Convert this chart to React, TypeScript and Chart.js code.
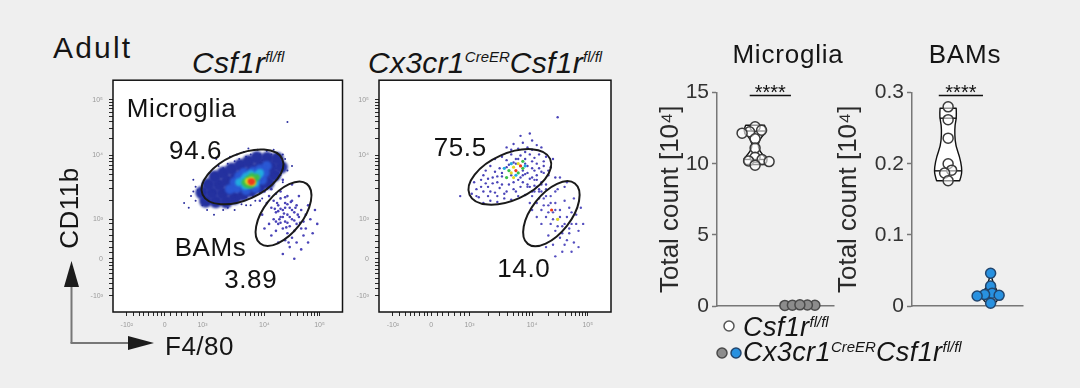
import React, { useEffect, useRef } from "react";
import { Chart, registerables } from "chart.js";

Chart.register(...registerables);

const FONT = "'Liberation Sans', Arial, Helvetica, sans-serif";
const BG = "#efefef";

// ---------------- Flow cytometry (F4/80 vs CD11b), display units 0–100 ----------------
const flowXTickValues = [6, 22.5, 39, 66, 90];
const flowXTickLabels = ["-10²", "0", "10³", "10⁴", "10⁵"];
const flowYTickValues = [7, 23, 40, 67.5, 91.5];
const flowYTickLabels = ["-10³", "0", "10³", "10⁴", "10⁵"];
const flowXMinorTicks = [9, 11.5, 13.5, 15.5, 17.5, 19.5, 21, 25, 27.5, 30, 32.5, 35, 37, 47.1, 51.9, 55.3, 57.9, 60, 61.8, 63.4, 64.8, 73.2, 77.4, 80.4, 82.8, 84.7, 86.3, 87.7, 88.9];
const flowYMinorTicks = [10, 12.5, 14.5, 16.5, 18.5, 20, 21.5, 25.5, 28, 30.5, 33, 35.5, 38, 48.3, 53.1, 56.6, 59.2, 61.4, 63.2, 64.8, 66.2, 74.7, 79, 82, 84.3, 86.2, 87.8, 89.2, 90.4];

// gates: centre x, centre y, semi-major, semi-minor, tilt (deg)
const microgliaGate = [56.4, 58.3, 19, 10, 24];
const bamGate = [74.3, 42.4, 16.5, 8.5, 52];

const ctrlGateFreqs = ["94.6", "3.89"];
const koGateFreqs = ["75.5", "14.0"];

// density levels: 0 navy … 5 red
const LEVEL_COLORS = ["#24319f", "#2a58d4", "#22acdf", "#3cbf4a", "#e2dc20", "#ec3a1c"];

// Csf1r fl/fl – microglia density core [x, y, level]
const ctrlMicrogliaDensity = [
  [40.4, 47.8, 0], [38.7, 51.5, 0], [44.8, 47.6, 0], [43.2, 51.3, 0], [41.6, 55.0, 0],
  [49.3, 47.5, 0], [47.7, 51.1, 0], [46.1, 54.8, 0], [44.4, 58.4, 0],
  [53.0, 49.1, 0], [51.3, 52.7, 0], [49.7, 56.4, 0], [48.1, 60.0, 0],
  [56.6, 50.7, 0], [55.0, 54.4, 0], [53.4, 58.0, 0], [51.7, 61.7, 0],
  [60.3, 52.3, 0], [58.6, 56.0, 0], [57.0, 59.6, 0], [55.4, 63.3, 0],
  [63.9, 54.0, 0], [62.3, 57.6, 0], [60.7, 61.3, 0], [59.0, 64.9, 0],
  [67.6, 55.6, 0], [66.0, 59.2, 0], [64.3, 62.9, 0], [62.7, 66.6, 0],
  [70.4, 59.0, 0], [68.8, 62.7, 0], [67.2, 66.4, 0], [73.3, 62.5, 0], [71.6, 66.2, 0],
  [51, 53, 1], [53, 56, 1], [55, 58.5, 1], [54, 53.5, 1], [57, 55, 1], [59, 57.5, 1], [57, 60, 1], [58, 52.5, 1],
  [61, 55.5, 1], [63, 58, 1], [61, 60.5, 1], [62, 53.5, 1], [65, 57, 1], [66, 60, 1], [67, 63, 1], [64, 61.5, 1],
  [60, 58.5, 1], [56, 57, 1],
  [55, 56, 2], [57, 57, 2], [59, 55, 2], [61, 57, 2], [63, 59, 2], [58, 58.5, 2], [60, 59.5, 2], [57.5, 54.5, 2],
  [62, 55.5, 2], [64, 60, 2], [59.5, 56.5, 2],
  [57.5, 56, 3], [59, 57.3, 3], [61, 56.5, 3], [60, 54.8, 3], [62.5, 58, 3], [58.5, 55, 3], [60.5, 58.5, 3],
  [59.5, 56, 4], [61, 55.7, 4], [60.3, 57, 4], [58.8, 56.5, 4],
  [60.3, 55.9, 5], [60.8, 56.4, 5], [59.8, 56.5, 5],
];
const ctrlMicrogliaEvents = [
  [36, 48], [38, 51], [39, 46], [40, 53], [41, 49], [37, 52.5], [42, 55], [43, 47], [34, 50], [39, 55.5],
  [48, 62], [50, 64], [53, 65], [55, 66], [58, 67], [60, 68], [62, 67.5], [64, 68], [66, 67], [68, 66.5],
  [52, 62.5], [57, 64.5], [61, 65.5], [65, 65.5], [70, 65], [71, 62], [72, 60],
  [46, 47], [49, 47.5], [52, 48], [55, 49], [58, 49.5], [61, 50], [64, 51.5], [67, 53], [69, 55], [71, 57], [73, 59],
  [50, 45], [56, 46.5], [62, 48], [76, 82], [31, 47], [74, 68], [45, 66], [35, 57], [78, 63], [44, 42],
  [47, 58.5], [44, 51], [73, 64.5], [67, 69.5], [59, 70.5], [53, 44], [60, 46], [33, 45], [36, 54], [42, 60],
  [46, 63], [51, 67], [57, 69], [63, 70], [69, 68], [75, 66], [76, 61], [74, 56], [65, 49], [58, 46], [48, 44],
  [41, 44], [35, 52], [70, 70], [54, 68],
];
const ctrlBamEvents = [
  [66, 52], [68, 50], [70, 48], [72, 46], [74, 44], [76, 42], [78, 40], [80, 38], [82, 36], [69, 53], [71, 51],
  [73, 49], [75, 47], [77, 45], [79, 43], [81, 41], [83, 39], [67, 47], [69, 45], [71, 43], [73, 41], [75, 39],
  [77, 37], [79, 35], [70, 40], [72, 38], [74, 36], [76, 34], [78, 32], [73, 52], [76, 50], [78, 48], [80, 46],
  [82, 44], [84, 42], [85, 46], [86, 40], [80, 30], [75, 31], [71, 35], [68, 38], [65, 42], [64, 48], [63, 54],
  [78, 55], [81, 50], [84, 36], [77, 28], [72, 30], [88, 44], [87, 34], [74, 25], [82, 27], [79, 23], [69, 33],
  [66, 36], [85, 30], [89, 38], [74, 57], [70, 56], [76, 38.5], [73, 44.5], [75, 45], [77, 41], [74, 41],
  [72, 43.5], [78, 44], [76, 46.5], [79, 39.5], [74.5, 42.5], [71.5, 47], [80.5, 42], [75.5, 36.5], [73, 38.5],
  [70.5, 44.5], [72.5, 40], [77.5, 47.5], [79.5, 45], [81.5, 38.5], [83, 33], [75, 49.5], [71, 39], [76.5, 30],
];

// Cx3cr1CreER Csf1r fl/fl
const koMicrogliaEvents = [
  [45, 47], [48, 48], [51, 47.5], [54, 49], [57, 48.5], [60, 50], [63, 50.5], [66, 52], [43, 49.5], [69, 53],
  [40, 51], [42, 53], [45, 52], [47, 54], [50, 51.5], [52, 53.5], [55, 52], [58, 53], [61, 54], [64, 55], [67, 54.5], [70, 56], [72, 55],
  [41, 56], [44, 57], [46, 55.5], [49, 58], [51, 56], [53, 58.5], [57, 59], [61, 58], [63, 59.5], [65, 57.5], [68, 59], [70, 60.5], [73, 59],
  [46, 61], [48, 63], [50, 60.5], [52, 62], [56, 63.5], [62, 61], [64, 63], [66, 62], [68, 64], [71, 63], [74, 62.5],
  [50, 66], [53, 67], [55, 65.5], [57, 68], [59, 66], [61, 67.5], [63, 66], [65, 68], [67, 66.5], [69, 68], [72, 67],
  [55, 71], [58, 72.5], [60, 70.5], [62, 73], [64, 71], [66, 74], [68, 72], [61, 76], [65, 77], [70, 71],
  [77, 84], [35, 50], [76, 58], [75, 66], [80, 54], [47, 50], [53, 55], [59, 64], [66, 65], [62, 56],
  [42, 50], [44, 54], [48, 52], [51, 50], [54, 51], [56, 55], [58, 56], [60, 57], [62, 59], [64, 60], [66, 58],
  [69, 62], [67, 61], [63, 64], [60, 66], [58, 64.5], [55, 62.5], [53, 60], [51, 58.5], [49, 55.5], [47, 57.5],
  [45, 59], [57, 70], [63, 69], [66, 70], [71, 65], [73, 61], [59, 52], [65, 54], [68, 57],
];
const koMicrogliaHot = [
  [57, 60, 4], [58, 62.5, 4], [55, 58, 3], [60, 64, 4], [62, 62, 3], [59, 61, 5], [61, 63, 5], [56, 61, 3],
  [59, 59, 2], [63, 63, 2], [54, 62, 2], [57, 64, 2], [60, 60, 3], [58, 58, 4], [62, 65, 3], [74.4, 44, 5], [77, 40, 4],
];
const koBamEvents = [
  [64, 54], [66, 50], [67, 57], [68, 47], [69, 52], [70, 44], [70, 55], [71, 49], [72, 41], [72, 53], [73, 46],
  [74, 38], [74, 50], [75, 43], [76, 35], [76, 47], [77, 40], [77, 53], [78, 32], [78, 44], [79, 37], [80, 48],
  [80, 29], [81, 41], [82, 34], [82, 45], [83, 38], [84, 30], [85, 42], [86, 35], [79, 26], [75, 29], [73, 33],
  [70, 38], [68, 41], [66, 44], [84, 49], [87, 45], [81, 56], [83, 26], [76, 24], [72, 28], [86, 28], [71, 60],
  [78, 58], [88, 38], [65, 47], [67, 52], [69, 49], [71, 46], [73, 43], [75, 40], [77, 37], [79, 34], [81, 31],
  [74, 47], [76, 44], [78, 41], [80, 38], [82, 36], [72, 50], [70, 52], [76, 52], [83, 43], [68, 54], [85, 38],
];

// ---------------- Total counts [10^4] ----------------
const countGroups = ["Csf1r fl/fl", "Cx3cr1 CreER Csf1r fl/fl"];
const microgliaCtrl = [12.6, 12.35, 12.25, 12.15, 11.75, 11.1, 10.45, 10.3, 10.2, 10.15, 9.9];
const microgliaKo = [0.05, 0.07, 0.04, 0.06, 0.08];
const bamCtrl = [0.28, 0.262, 0.236, 0.2, 0.191, 0.187, 0.176];
const bamKo = [0.046, 0.028, 0.018, 0.016, 0.015, 0.014, 0.004];
const microgliaTicks = [0, 5, 10, 15];
const microgliaTickLabels = ["0", "5", "10", "15"];
const bamTicks = [0, 0.1, 0.2, 0.3];
const bamTickLabels = ["0", "0.1", "0.2", "0.3"];
const significance = "****";

// violin outlines: value levels and half-widths (group units)
const mgCtrlViolinY = [9.95, 10.15, 10.4, 10.7, 11.0, 11.3, 11.6, 11.9, 12.2, 12.45, 12.7];
const mgCtrlViolinW = [0.21, 0.26, 0.24, 0.15, 0.09, 0.065, 0.09, 0.15, 0.24, 0.24, 0.21];
const mgCtrlQuartiles = [10.3, 11.4, 12.3];
const mgKoViolinY = [0.03, 0.06, 0.09];
const mgKoViolinW = [0.12, 0.28, 0.12];
const bamCtrlViolinY = [0.176, 0.185, 0.195, 0.21, 0.225, 0.24, 0.255, 0.265, 0.278];
const bamCtrlViolinW = [0.27, 0.32, 0.32, 0.27, 0.18, 0.155, 0.16, 0.2, 0.19];
const bamCtrlQuartiles = [0.19, 0.264];
const bamKoViolinY = [0.004, 0.008, 0.013, 0.018, 0.024, 0.03, 0.038, 0.046];
const bamKoViolinW = [0.09, 0.17, 0.2, 0.18, 0.13, 0.08, 0.03, 0.01];
const bamKoQuartiles = [0.014, 0.02];

// ---------------- helpers ----------------
function useChart(build: (c: HTMLCanvasElement) => any) {
  const ref = useRef<HTMLCanvasElement>(null);
  useEffect(() => {
    if (!ref.current) return;
    const chart = build(ref.current);
    return () => chart.destroy();
  }, []);
  return ref;
}

function Txt({ x, y, size, children, italic, anchor, spacing = 0, color = "#151515" }: any) {
  const style: any = {
    position: "absolute", left: x, top: y - 0.8465 * size, fontSize: size, lineHeight: `${size}px`,
    fontFamily: FONT, fontStyle: italic ? "italic" : "normal", whiteSpace: "nowrap", letterSpacing: spacing, color,
  };
  if (anchor === "middle") style.transform = "translateX(-50%)";
  return <div style={style}>{children}</div>;
}
const Sup = ({ children, size, rise }: any) => (
  <span style={{ fontSize: size, position: "relative", top: -rise, letterSpacing: 0 }}>{children}</span>
);

const FLOW_W = 266;
const FLOW_H = 266;

function FlowPlot({ left, top, density, events, hot, labels }: any) {
  const ref = useChart((canvas) => {
    const xt = [...flowXTickValues, ...flowXMinorTicks].sort((a, b) => a - b);
    const yt = [...flowYTickValues, ...flowYMinorTicks].sort((a, b) => a - b);
    const lab = (vals: number[], labs: string[]) => (v: any) => {
      const i = vals.indexOf(v);
      return i >= 0 ? labs[i] : "";
    };
    const decor = {
      id: "flowDecor",
      beforeDraw(chart: any) {
        const { ctx, chartArea: a } = chart;
        ctx.save();
        ctx.fillStyle = "#ffffff";
        ctx.fillRect(a.left, a.top, a.right - a.left, a.bottom - a.top);
        ctx.restore();
      },
      beforeDatasetDraw(chart: any, args: any) {
        if (args.index === 0) {
          chart.ctx.save();
          chart.ctx.filter = "blur(1.2px)";
        }
      },
      afterDatasetDraw(chart: any, args: any) {
        if (args.index === 0) chart.ctx.restore();
      },
      afterDatasetsDraw(chart: any) {
        const { ctx, chartArea: a } = chart;
        const xs = chart.scales.x, ys = chart.scales.y;
        const ppu = (xs.getPixelForValue(100) - xs.getPixelForValue(0)) / 100;
        ctx.save();
        ctx.strokeStyle = "#1a1a1a";
        ctx.lineWidth = 2;
        for (const g of [microgliaGate, bamGate]) {
          ctx.beginPath();
          ctx.ellipse(xs.getPixelForValue(g[0]), ys.getPixelForValue(g[1]), g[2] * ppu, g[3] * ppu, (-g[4] * Math.PI) / 180, 0, Math.PI * 2);
          ctx.stroke();
        }
        ctx.lineWidth = 1.5;
        ctx.strokeStyle = "#111";
        ctx.strokeRect(a.left, a.top, a.right - a.left, a.bottom - a.top);
        ctx.fillStyle = "#121212";
        ctx.font = `26px ${FONT}`;
        (ctx as any).letterSpacing = "0.6px";
        ctx.textBaseline = "alphabetic";
        for (const l of labels) {
          ctx.textAlign = l.align;
          ctx.fillText(l.text, xs.getPixelForValue(l.x), ys.getPixelForValue(l.y) + 0.36 * 26);
        }
        ctx.restore();
      },
    };
    const datasets: any[] = [
      {
        data: density.map(([x, y, l]: number[]) => ({ x, y, l })),
        order: 0,
        pointRadius: (c: any) => [6.5, 5, 4, 3.5, 3, 2.6][c.raw ? c.raw.l : 0],
        pointBackgroundColor: (c: any) => LEVEL_COLORS[c.raw ? c.raw.l : 0],
        pointBorderWidth: 0,
      },
      {
        data: hot.map(([x, y, l]: number[]) => ({ x, y, l })),
        order: 1,
        pointRadius: 1.6,
        pointBackgroundColor: (c: any) => LEVEL_COLORS[c.raw ? c.raw.l : 0],
        pointBorderWidth: 0,
      },
      ...events.map((e: any, i: number) => ({
        data: e.pts.map(([x, y]: number[]) => ({ x, y })),
        order: 2 + i,
        pointRadius: e.r,
        pointBackgroundColor: e.color,
        pointBorderWidth: 0,
      })),
    ];
    const axis = (vals: number[], labs: string[], ticks: number[], horiz: boolean) => ({
      type: "linear",
      min: 0,
      max: 100,
      afterBuildTicks: (s: any) => { s.ticks = ticks.map((v) => ({ value: v })); },
      afterFit: (s: any) => { if (horiz) s.height = 24; else s.width = 30; },
      ticks: { autoSkip: false, maxRotation: 0, padding: horiz ? 5 : 6, color: "#9a9a9a", font: { size: 7, family: FONT }, callback: lab(vals, labs) },
      grid: { drawOnChartArea: false, tickLength: 4, color: "#2a2a2a", lineWidth: 1 },
      border: { display: false },
    });
    return new Chart(canvas, {
      type: "scatter",
      data: { datasets },
      options: {
        responsive: false,
        animation: false,
        events: [],
        layout: { padding: { top: 8, right: 2, left: 0, bottom: 0 } },
        plugins: { legend: { display: false }, tooltip: { enabled: false } },
        scales: {
          x: axis(flowXTickValues, flowXTickLabels, xt, true),
          y: axis(flowYTickValues, flowYTickLabels, yt, false),
        },
      } as any,
      plugins: [decor],
    });
  });
  return (
    <canvas ref={ref} width={FLOW_W} height={FLOW_H}
      style={{ position: "absolute", left, top, width: FLOW_W, height: FLOW_H }} />
  );
}

function smoothPath(ctx: any, pts: number[][], move: boolean) {
  if (move) ctx.moveTo(pts[0][0], pts[0][1]);
  else ctx.lineTo(pts[0][0], pts[0][1]);
  for (let i = 1; i < pts.length - 1; i++) {
    const mx = (pts[i][0] + pts[i + 1][0]) / 2, my = (pts[i][1] + pts[i + 1][1]) / 2;
    ctx.quadraticCurveTo(pts[i][0], pts[i][1], mx, my);
  }
  ctx.lineTo(pts[pts.length - 1][0], pts[pts.length - 1][1]);
}
function interp(ys: number[], ws: number[], v: number) {
  for (let i = 0; i < ys.length - 1; i++) {
    if (v >= ys[i] && v <= ys[i + 1]) {
      const t = (v - ys[i]) / (ys[i + 1] - ys[i]);
      return ws[i] + t * (ws[i + 1] - ws[i]);
    }
  }
  return ws[0];
}

const swarmPlugin = {
  id: "swarm",
  afterDatasetsUpdate(chart: any) {
    chart.data.datasets.forEach((_: any, di: number) => {
      const els = chart.getDatasetMeta(di).data as any[];
      const idx = els.map((_e, i) => i).sort((a, b) => els[a].y - els[b].y);
      const placed: number[][] = [];
      const minD = 7.2;
      for (const i of idx) {
        const el = els[i];
        const bx = el.x;
        let off = 0;
        for (let k = 0; k < 120; k++) {
          const cand = k === 0 ? 0 : (k % 2 ? 1 : -1) * Math.ceil(k / 2) * 0.5;
          if (placed.every(([px, py]) => Math.hypot(bx + cand - px, el.y - py) >= minD)) { off = cand; break; }
        }
        el.x = bx + off;
        placed.push([el.x, el.y]);
      }
    });
  },
};

function CountPlot({ left, top, width, height, yAxisWidth, ctrl, ko, max, ticks, tickLabels, violins, sigBar, koFill, koBorder }: any) {
  const ref = useChart((canvas) => {
    const decor = {
      id: "countDecor",
      beforeDatasetsDraw(chart: any) {
        const { ctx } = chart;
        const xs = chart.scales.x, ys = chart.scales.y;
        ctx.save();
        ctx.fillStyle = "#ffffff";
        ctx.strokeStyle = "#111";
        ctx.lineWidth = 1.4;
        ctx.lineJoin = "round";
        for (const v of violins) {
          const L = v.ys.map((yy: number, i: number) => [xs.getPixelForValue(v.x - v.ws[i]), ys.getPixelForValue(yy)]);
          const R = v.ys.map((yy: number, i: number) => [xs.getPixelForValue(v.x + v.ws[i]), ys.getPixelForValue(yy)]).reverse();
          ctx.beginPath();
          smoothPath(ctx, L, true);
          smoothPath(ctx, R, false);
          ctx.closePath();
          ctx.fill();
          ctx.stroke();
          for (const q of v.lines) {
            const w = interp(v.ys, v.ws, q);
            const py = ys.getPixelForValue(q);
            ctx.beginPath();
            ctx.moveTo(xs.getPixelForValue(v.x - w), py);
            ctx.lineTo(xs.getPixelForValue(v.x + w), py);
            ctx.stroke();
          }
        }
        ctx.restore();
      },
      afterDatasetsDraw(chart: any) {
        const { ctx } = chart;
        const xs = chart.scales.x, ys = chart.scales.y;
        const py = ys.getPixelForValue(sigBar[2]);
        const x1 = xs.getPixelForValue(sigBar[0]), x2 = xs.getPixelForValue(sigBar[1]);
        ctx.save();
        ctx.strokeStyle = "#111";
        ctx.lineWidth = 1.5;
        ctx.beginPath();
        ctx.moveTo(x1, py);
        ctx.lineTo(x2, py);
        ctx.stroke();
        ctx.fillStyle = "#111";
        ctx.font = `20px ${FONT}`;
        ctx.textAlign = "center";
        ctx.textBaseline = "alphabetic";
        ctx.fillText(significance, (x1 + x2) / 2, py + 4);
        ctx.restore();
      },
    };
    return new Chart(canvas, {
      type: "scatter",
      data: {
        labels: countGroups,
        datasets: [
          {
            label: countGroups[0],
            data: ctrl.map((v: number) => ({ x: 1, y: v })),
            pointRadius: 5,
            pointBackgroundColor: "rgba(255,255,255,0.55)",
            pointBorderColor: "#3a3a3a",
            pointBorderWidth: 1.5,
            clip: false,
          },
          {
            label: countGroups[1],
            data: ko.map((v: number) => ({ x: 2, y: v })),
            pointRadius: 5,
            pointBackgroundColor: koFill,
            pointBorderColor: koBorder,
            pointBorderWidth: 1.5,
            clip: false,
          },
        ],
      },
      options: {
        responsive: false,
        animation: false,
        events: [],
        layout: { padding: { top: 14, bottom: 14, right: 2, left: 0 } },
        plugins: { legend: { display: false }, tooltip: { enabled: false } },
        scales: {
          x: {
            type: "linear", min: 0.15, max: 2.75,
            afterFit: (s: any) => { s.height = 2; },
            ticks: { display: false },
            grid: { display: true, drawOnChartArea: false, drawTicks: false, lineWidth: 1.5, color: "#777" },
            border: { display: true, color: "#777", width: 1.5 },
          },
          y: {
            type: "linear", min: 0, max,
            afterBuildTicks: (s: any) => { s.ticks = ticks.map((v: number) => ({ value: v })); },
            afterFit: (s: any) => { s.width = yAxisWidth; },
            ticks: {
              autoSkip: false, padding: 3, color: "#333",
              font: { size: 21, family: FONT },
              callback: (_v: any, i: number) => tickLabels[i],
            },
            grid: { drawOnChartArea: false, tickLength: 5, tickColor: "#777", tickWidth: 1.5, color: "#777" },
            border: { display: true, color: "#777", width: 1.5 },
            title: {
              display: true, text: "Total count [10⁴]", color: "#2a2a2a",
              font: { size: 26, family: FONT }, padding: { top: 5, bottom: 0 },
            },
          },
        },
      } as any,
      plugins: [swarmPlugin, decor],
    });
  });
  return (
    <canvas ref={ref} width={width} height={height}
      style={{ position: "absolute", left, top, width, height }} />
  );
}

export default function App() {
  const ctrlLabels = [
    { text: "Microglia", x: 6, y: 88, align: "left" },
    { text: ctrlGateFreqs[0], x: 36, y: 70, align: "center" },
    { text: "BAMs", x: 42.5, y: 28.2, align: "center" },
    { text: ctrlGateFreqs[1], x: 60, y: 14.5, align: "center" },
  ];
  const koLabels = [
    { text: koGateFreqs[0], x: 35, y: 71.4, align: "center" },
    { text: koGateFreqs[1], x: 62.4, y: 19.2, align: "center" },
  ];
  return (
    <div style={{ position: "absolute", left: 0, top: 0, width: 1080, height: 388, background: BG, overflow: "hidden", fontFamily: FONT, color: "#151515" }}>
      <Txt x={53} y={58} size={30} spacing={2.2}>Adult</Txt>
      <Txt x={192} y={73} size={30} italic spacing={0.3}>Csf1r<Sup size={15} rise={11}>fl/fl</Sup></Txt>
      <Txt x={368} y={73} size={30} italic spacing={0.3}>
        Cx3cr1<Sup size={15} rise={11}>CreER</Sup>Csf1r<Sup size={15} rise={11}>fl/fl</Sup>
      </Txt>

      <FlowPlot left={83} top={70} density={ctrlMicrogliaDensity} hot={[]}
        events={[{ pts: ctrlMicrogliaEvents, color: "#2b2f9e", r: 1 }, { pts: ctrlBamEvents, color: "#4a44b8", r: 1.3 }]}
        labels={ctrlLabels} />
      <FlowPlot left={349} top={70} density={[]} hot={koMicrogliaHot}
        events={[{ pts: koMicrogliaEvents, color: "#4a44b8", r: 1.2 }, { pts: koBamEvents, color: "#5650c0", r: 1.2 }]}
        labels={koLabels} />

      <svg width={1080} height={388} style={{ position: "absolute", left: 0, top: 0, pointerEvents: "none" }}>
        <line x1={71.5} y1={343} x2={71.5} y2={286} stroke="#777" strokeWidth={2} />
        <line x1={70.5} y1={343} x2={129} y2={343} stroke="#777" strokeWidth={2} />
        <polygon points="64,287 79,287 71.5,261" fill="#1c1c1c" />
        <polygon points="128,336 128,350 154,343" fill="#1c1c1c" />
        <circle cx={729} cy={326} r={5} fill="#fff" stroke="#555" strokeWidth={1.5} />
        <circle cx={722} cy={353} r={5} fill="#8c8c8c" stroke="#4a4a4a" strokeWidth={1.5} />
        <circle cx={736} cy={353} r={5} fill="#2891e0" stroke="#22466e" strokeWidth={1.5} />
      </svg>
      <div style={{ position: "absolute", left: 69, top: 208, transform: "translate(-50%,-50%) rotate(-90deg)", fontSize: 26, lineHeight: "26px", fontFamily: FONT, whiteSpace: "nowrap", letterSpacing: 0.5, color: "#151515" }}>CD11b</div>
      <Txt x={165} y={355} size={26} spacing={0.5}>F4/80</Txt>

      <Txt x={788} y={63} size={26} anchor="middle" spacing={0.8}>Microglia</Txt>
      <Txt x={965} y={63} size={26} anchor="middle" spacing={0.8}>BAMs</Txt>

      <CountPlot left={650} top={77} width={190} height={245} yAxisWidth={67}
        ctrl={microgliaCtrl} ko={microgliaKo} max={15} ticks={microgliaTicks} tickLabels={microgliaTickLabels}
        koFill="#8c8c8c" koBorder="#4a4a4a"
        sigBar={[0.88, 1.8, 14.8]}
        violins={[
          { x: 1, ys: mgCtrlViolinY, ws: mgCtrlViolinW, lines: mgCtrlQuartiles },
          { x: 2, ys: mgKoViolinY, ws: mgKoViolinW, lines: [] },
        ]} />
      <CountPlot left={828} top={77} width={201} height={245} yAxisWidth={84}
        ctrl={bamCtrl} ko={bamKo} max={0.3} ticks={bamTicks} tickLabels={bamTickLabels}
        koFill="#2891e0" koBorder="#22466e"
        sigBar={[0.78, 1.82, 0.296]}
        violins={[
          { x: 1, ys: bamCtrlViolinY, ws: bamCtrlViolinW, lines: bamCtrlQuartiles },
          { x: 2, ys: bamKoViolinY, ws: bamKoViolinW, lines: bamKoQuartiles },
        ]} />

      <Txt x={743} y={337} size={27} italic spacing={0.4}>Csf1r<Sup size={15} rise={9}>fl/fl</Sup></Txt>
      <Txt x={743} y={362} size={27} italic spacing={0.4}>
        Cx3cr1<Sup size={15} rise={9}>CreER</Sup>Csf1r<Sup size={15} rise={9}>fl/fl</Sup>
      </Txt>
    </div>
  );
}
